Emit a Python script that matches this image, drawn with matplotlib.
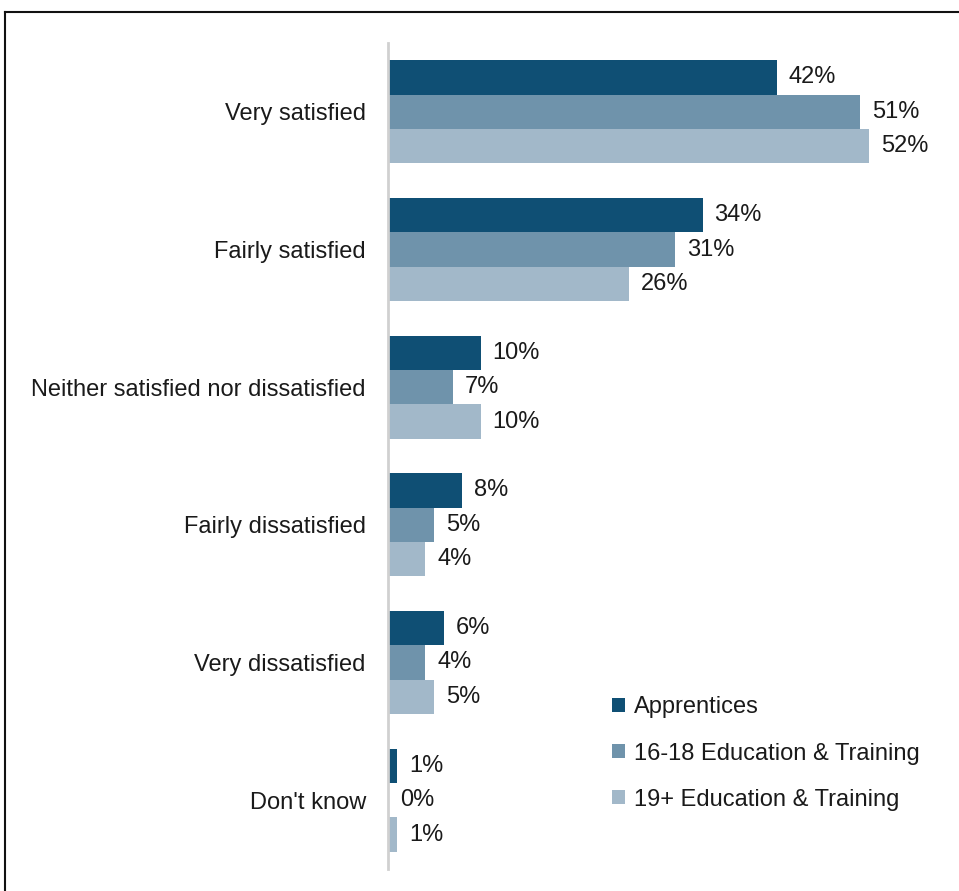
import matplotlib.pyplot as plt
from matplotlib.lines import Line2D
import numpy as np

plt.rcParams['font.family'] = ['Liberation Sans', 'DejaVu Sans']

# Satisfaction responses by learner group (percent)
categories = ["Very satisfied", "Fairly satisfied", "Neither satisfied nor dissatisfied",
              "Fairly dissatisfied", "Very dissatisfied", "Don't know"]
apprentices = [42, 34, 10, 8, 6, 1]
ed_16_18 = [51, 31, 7, 5, 4, 0]
ed_19_plus = [52, 26, 10, 4, 5, 1]
series_names = ["Apprentices", "16-18 Education & Training", "19+ Education & Training"]
colors = ['#0F4F74', '#6F93AB', '#A2B8C9']

W, H = 959, 891
fig = plt.figure(figsize=(W / 100, H / 100), dpi=100)
ax = fig.add_axes([388 / W, 1 - 869 / H, (943 - 388) / W, (869 - 43) / H])

y = np.arange(len(categories))
bar_h = 0.25
offsets = [-bar_h, 0, bar_h]
for vals, off, col, name in zip([apprentices, ed_16_18, ed_19_plus], offsets, colors, series_names):
    bars = ax.barh(y + off, vals, height=bar_h, color=col, label=name)
    for b, v in zip(bars, vals):
        ax.annotate(f"{v}%", (b.get_width(), b.get_y() + b.get_height() / 2),
                    xytext=(12, 0), textcoords='offset pixels',
                    va='center', ha='left', fontsize=17, color='#1a1a1a')

ax.set_xlim(0, 60)
ax.set_ylim(len(categories) - 0.5, -0.5)
ax.set_yticks(y)
ax.set_yticklabels(categories, fontsize=17, color='#1a1a1a')
ax.tick_params(axis='y', length=0, pad=16)
ax.set_xticks([])
for s in ['top', 'right', 'bottom']:
    ax.spines[s].set_visible(False)
ax.spines['left'].set_color('#D0D0D0')
ax.spines['left'].set_linewidth(2)

leg = ax.legend(loc='upper left', bbox_to_anchor=((603 - 388) / (943 - 388), 1 - (687 - 43) / (869 - 43)),
                frameon=False, fontsize=17, handlelength=0.55, handleheight=0.55,
                handletextpad=0.35, labelspacing=1.02, borderaxespad=0)
for t in leg.get_texts():
    t.set_color('#1a1a1a')

# outer frame, top and left edges only
fig.add_artist(Line2D([5 / W, 1], [1 - 12 / H, 1 - 12 / H], color='#111111', lw=1.5, transform=fig.transFigure))
fig.add_artist(Line2D([5 / W, 5 / W], [0, 1 - 12 / H], color='#111111', lw=1.5, transform=fig.transFigure))

fig.savefig('out.png', dpi=100)
